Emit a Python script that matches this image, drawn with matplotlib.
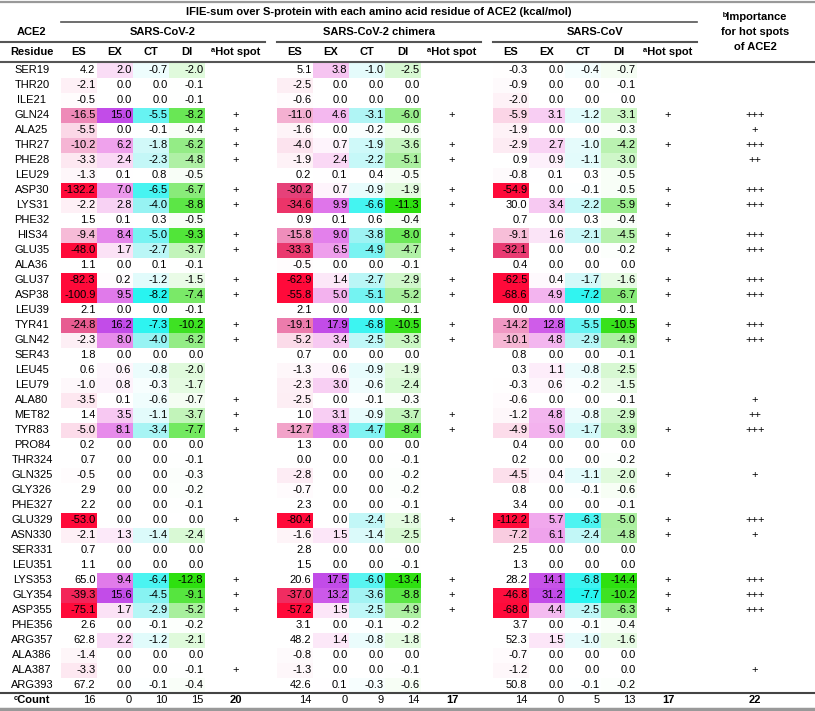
import matplotlib
matplotlib.use("Agg")
import matplotlib.pyplot as plt
from matplotlib.colors import LinearSegmentedColormap
from matplotlib.patches import Rectangle

plt.rcParams['font.family'] = ['Liberation Sans', 'DejaVu Sans']

# ---------------- data ----------------
residues = ['SER19', 'THR20', 'ILE21', 'GLN24', 'ALA25', 'THR27', 'PHE28', 'LEU29', 'ASP30', 'LYS31',
            'PHE32', 'HIS34', 'GLU35', 'ALA36', 'GLU37', 'ASP38', 'LEU39', 'TYR41', 'GLN42', 'SER43',
            'LEU45', 'LEU79', 'ALA80', 'MET82', 'TYR83', 'PRO84', 'THR324', 'GLN325', 'GLY326', 'PHE327',
            'GLU329', 'ASN330', 'SER331', 'LEU351', 'LYS353', 'GLY354', 'ASP355', 'PHE356', 'ARG357',
            'ALA386', 'ALA387', 'ARG393']

# SARS-CoV-2
cov2_es = [4.2, -2.1, -0.5, -16.5, -5.5, -10.2, -3.3, -1.3, -132.2, -2.2, 1.5, -9.4, -48.0, 1.1, -82.3, -100.9,
           2.1, -24.8, -2.3, 1.8, 0.6, -1.0, -3.5, 1.4, -5.0, 0.2, 0.7, -0.5, 2.9, 2.2, -53.0, -2.1, 0.7, 1.1,
           65.0, -39.3, -75.1, 2.6, 62.8, -1.4, -3.3, 67.2]
cov2_ex = [2.0, 0.0, 0.0, 15.0, 0.0, 6.2, 2.4, 0.1, 7.0, 2.8, 0.1, 8.4, 1.7, 0.0, 0.2, 9.5, 0.0, 16.2, 8.0, 0.0,
           0.6, 0.8, 0.1, 3.5, 8.1, 0.0, 0.0, 0.0, 0.0, 0.0, 0.0, 1.3, 0.0, 0.0, 9.4, 15.6, 1.7, 0.0, 2.2,
           0.0, 0.0, 0.0]
cov2_ct = [-0.7, 0.0, 0.0, -5.5, -0.1, -1.8, -2.3, 0.8, -6.5, -4.0, 0.3, -5.0, -2.7, 0.1, -1.2, -8.2, 0.0, -7.3,
           -4.0, 0.0, -0.8, -0.3, -0.6, -1.1, -3.4, 0.0, 0.0, 0.0, 0.0, 0.0, 0.0, -1.4, 0.0, 0.0, -6.4, -4.5,
           -2.9, -0.1, -1.2, 0.0, 0.0, -0.1]
cov2_di = [-2.0, -0.1, -0.1, -8.2, -0.4, -6.2, -4.8, -0.5, -6.7, -8.8, -0.5, -9.3, -3.7, -0.1, -1.5, -7.4, -0.1,
           -10.2, -6.2, 0.0, -2.0, -1.7, -0.7, -3.7, -7.7, 0.0, -0.1, -0.3, -0.2, -0.1, 0.0, -2.4, 0.0, 0.0,
           -12.8, -9.1, -5.2, -0.2, -2.1, 0.0, -0.1, -0.4]
cov2_hot = ['GLN24', 'ALA25', 'THR27', 'PHE28', 'ASP30', 'LYS31', 'HIS34', 'GLU35', 'GLU37', 'ASP38', 'TYR41',
            'GLN42', 'ALA80', 'MET82', 'TYR83', 'GLU329', 'LYS353', 'GLY354', 'ASP355', 'ALA387']

# SARS-CoV-2 chimera
chim_es = [5.1, -2.5, -0.6, -11.0, -1.6, -4.0, -1.9, 0.2, -30.2, -34.6, 0.9, -15.8, -33.3, -0.5, -62.9, -55.8,
           2.1, -19.1, -5.2, 0.7, -1.3, -2.3, -2.5, 1.0, -12.7, 1.3, 0.0, -2.8, -0.7, 2.3, -80.4, -1.6, 2.8,
           1.5, 20.6, -37.0, -57.2, 3.1, 48.2, -0.8, -1.3, 42.6]
chim_ex = [3.8, 0.0, 0.0, 4.6, 0.0, 0.7, 2.4, 0.1, 0.7, 9.9, 0.1, 9.0, 6.5, 0.0, 1.4, 5.0, 0.0, 17.9, 3.4, 0.0,
           0.6, 3.0, 0.0, 3.1, 8.3, 0.0, 0.0, 0.0, 0.0, 0.0, 0.0, 1.5, 0.0, 0.0, 17.5, 13.2, 1.5, 0.0, 1.4,
           0.0, 0.0, 0.1]
chim_ct = [-1.0, 0.0, 0.0, -3.1, -0.2, -1.9, -2.2, 0.4, -0.9, -6.6, 0.6, -3.8, -4.9, 0.0, -2.7, -5.1, 0.0, -6.8,
           -2.5, 0.0, -0.9, -0.6, -0.1, -0.9, -4.7, 0.0, 0.0, 0.0, 0.0, 0.0, -2.4, -1.4, 0.0, 0.0, -6.0, -3.6,
           -2.5, -0.1, -0.8, 0.0, 0.0, -0.3]
chim_di = [-2.5, 0.0, 0.0, -6.0, -0.6, -3.6, -5.1, -0.5, -1.9, -11.3, -0.4, -8.0, -4.7, -0.1, -2.9, -5.2, -0.1,
           -10.5, -3.3, 0.0, -1.9, -2.4, -0.3, -3.7, -8.4, 0.0, -0.1, -0.2, -0.2, -0.1, -1.8, -2.5, 0.0, -0.1,
           -13.4, -8.8, -4.9, -0.2, -1.8, 0.0, -0.1, -0.6]
chim_hot = ['GLN24', 'THR27', 'PHE28', 'ASP30', 'LYS31', 'HIS34', 'GLU35', 'GLU37', 'ASP38', 'TYR41', 'GLN42',
            'MET82', 'TYR83', 'GLU329', 'LYS353', 'GLY354', 'ASP355']

# SARS-CoV
sars_es = [-0.3, -0.9, -2.0, -5.9, -1.9, -2.9, 0.9, -0.8, -54.9, 30.0, 0.7, -9.1, -32.1, 0.4, -62.5, -68.6, 0.0,
           -14.2, -10.1, 0.8, 0.3, -0.3, -0.6, -1.2, -4.9, 0.4, 0.2, -4.5, 0.8, 3.4, -112.2, -7.2, 2.5, 1.3,
           28.2, -46.8, -68.0, 3.7, 52.3, -0.7, -1.2, 50.8]
sars_ex = [0.0, 0.0, 0.0, 3.1, 0.0, 2.7, 0.9, 0.1, 0.0, 3.4, 0.0, 1.6, 0.0, 0.0, 0.4, 4.9, 0.0, 12.8, 4.8, 0.0,
           1.1, 0.6, 0.0, 4.8, 5.0, 0.0, 0.0, 0.4, 0.0, 0.0, 5.7, 6.1, 0.0, 0.0, 14.1, 31.2, 4.4, 0.0, 1.5,
           0.0, 0.0, 0.0]
sars_ct = [-0.4, 0.0, 0.0, -1.2, 0.0, -1.0, -1.1, 0.3, -0.1, -2.2, 0.3, -2.1, 0.0, 0.0, -1.7, -7.2, 0.0, -5.5,
           -2.9, 0.0, -0.8, -0.2, 0.0, -0.8, -1.7, 0.0, 0.0, -1.1, -0.1, 0.0, -6.3, -2.4, 0.0, 0.0, -6.8, -7.7,
           -2.5, -0.1, -1.0, 0.0, 0.0, -0.1]
sars_di = [-0.7, -0.1, 0.0, -3.1, -0.3, -4.2, -3.0, -0.5, -0.5, -5.9, -0.4, -4.5, -0.2, 0.0, -1.6, -6.7, -0.1,
           -10.5, -4.9, -0.1, -2.5, -1.5, -0.1, -2.9, -3.9, 0.0, -0.2, -2.0, -0.6, -0.1, -5.0, -4.8, 0.0, 0.0,
           -14.4, -10.2, -6.3, -0.4, -1.6, 0.0, 0.0, -0.2]
sars_hot = ['GLN24', 'THR27', 'ASP30', 'LYS31', 'HIS34', 'GLU35', 'GLU37', 'ASP38', 'TYR41', 'GLN42', 'TYR83',
            'GLN325', 'GLU329', 'ASN330', 'LYS353', 'GLY354', 'ASP355']

importance = {'GLN24': '+++', 'ALA25': '+', 'THR27': '+++', 'PHE28': '++', 'ASP30': '+++', 'LYS31': '+++',
              'HIS34': '+++', 'GLU35': '+++', 'GLU37': '+++', 'ASP38': '+++', 'TYR41': '+++', 'GLN42': '+++',
              'ALA80': '+', 'MET82': '++', 'TYR83': '+++', 'GLN325': '+', 'GLU329': '+++', 'ASN330': '+',
              'LYS353': '+++', 'GLY354': '+++', 'ASP355': '+++', 'ALA387': '+'}

block_names = ['SARS-CoV-2', 'SARS-CoV-2 chimera', 'SARS-CoV']
counts = [[16, 0, 10, 15, 20], [14, 0, 9, 14, 17], [14, 0, 5, 13, 17]]
importance_count = 22
terms = ['ES', 'EX', 'CT', 'DI']

# ---------------- colour scales (sign, saturation, colours) ----------------
cm_es = LinearSegmentedColormap.from_list('es', [(0, '#ffffff'), (0.12, '#fbd6e6'), (0.3, '#f096c2'),
                                                 (0.6, '#e4467e'), (1, '#ff0a3a')])
cm_ex = LinearSegmentedColormap.from_list('ex', [(0, '#ffffff'), (0.12, '#fbe0f6'), (0.4, '#f0a4ec'),
                                                 (0.7, '#dc6eea'), (1, '#c24ce8')])
cm_ct = LinearSegmentedColormap.from_list('ct', [(0, '#ffffff'), (0.15, '#e2fbfb'), (0.5, '#9ff3f3'),
                                                 (1, '#28f4f0')])
cm_di = LinearSegmentedColormap.from_list('di', [(0, '#ffffff'), (0.15, '#e6fbe3'), (0.5, '#a3ee97'),
                                                 (0.8, '#5ce646'), (1, '#2ee010')])
scales = [(cm_es, -1, 48.0), (cm_ex, 1, 15.0), (cm_ct, -1, 7.5), (cm_di, -1, 11.0)]


def cell_colour(k, v):
    cmap, sign, sat = scales[k]
    t = sign * v / sat
    if t <= 0:
        return '#ffffff'
    return cmap(min(1.0, t))


# ---------------- layout ----------------
W, H = 815, 711
fig = plt.figure(figsize=(W / 100, H / 100), dpi=100)
ax = fig.add_axes([0, 0, 1, 1])
ax.set_xlim(0, W)
ax.set_ylim(H, 0)
ax.axis('off')

fs = 8
res_x = 32
block_x0 = [61, 277, 493]
cw = 36
imp_x = 755
row_y0 = 70
row_h = 15.0
count_y = 700

blocks = [(cov2_es, cov2_ex, cov2_ct, cov2_di, cov2_hot),
          (chim_es, chim_ex, chim_ct, chim_di, chim_hot),
          (sars_es, sars_ex, sars_ct, sars_di, sars_hot)]

# header
ax.text(379, 12, 'IFIE-sum over S-protein with each amino acid residue of ACE2 (kcal/mol)',
        ha='center', va='center', fontsize=fs, fontweight='bold')
ax.text(res_x, 32, 'ACE2', ha='center', va='center', fontsize=fs, fontweight='bold')
ax.text(res_x, 52, 'Residue', ha='center', va='center', fontsize=fs, fontweight='bold')
for j, line in enumerate(['ᵇImportance', 'for hot spots', 'of ACE2']):
    ax.text(imp_x, 17 + 15 * j, line, ha='center', va='center', fontsize=fs, fontweight='bold')

lc = '#555555'
ax.plot([0, W], [2, 2], color='#999999', lw=1.6)
ax.plot([61, 697], [22, 22], color=lc, lw=1.2)
ax.plot([0, W], [62, 62], color=lc, lw=1.5)
ax.plot([0, W], [693, 693], color='#444444', lw=1.5)
ax.plot([0, W], [709, 709], color='#999999', lw=2.5)

for b, (name, x0) in enumerate(zip(block_names, block_x0)):
    x_end = x0 + 204 if b else 265
    ax.plot([0 if b == 0 else x0, x_end], [42, 42], color=lc, lw=1.5)
    ax.text((x0 + x0 + 204) / 2, 32, name, ha='center', va='center', fontsize=fs, fontweight='bold')
    for k, term in enumerate(terms):
        ax.text(x0 + cw * k + cw / 2, 52, term, ha='center', va='center', fontsize=fs, fontweight='bold')
    ax.text(x0 + 175, 52, 'ᵃHot spot', ha='center', va='center', fontsize=fs, fontweight='bold')

# body
for i, res in enumerate(residues):
    y = row_y0 + i * row_h
    ax.text(res_x, y, res, ha='center', va='center', fontsize=fs)
    for b, x0 in enumerate(block_x0):
        data = blocks[b]
        for k in range(4):
            v = data[k][i]
            xl = x0 + cw * k
            ax.add_patch(Rectangle((xl, y - row_h / 2), cw, row_h, facecolor=cell_colour(k, v),
                                   edgecolor='none', zorder=0))
            ax.text(xl + cw - 1.5, y, f'{v:.1f}', ha='right', va='center', fontsize=fs)
        if res in data[4]:
            ax.text(x0 + 175, y, '+', ha='center', va='center', fontsize=fs)
    if res in importance:
        ax.text(imp_x, y, importance[res], ha='center', va='center', fontsize=fs)

# count row
ax.text(res_x, count_y, 'ᶜCount', ha='center', va='center', fontsize=fs, fontweight='bold')
for b, x0 in enumerate(block_x0):
    for k in range(4):
        ax.text(x0 + cw * k + cw - 1.5, count_y, str(counts[b][k]), ha='right', va='center', fontsize=fs)
    ax.text(x0 + 175, count_y, str(counts[b][4]), ha='center', va='center', fontsize=fs, fontweight='bold')
ax.text(imp_x, count_y, str(importance_count), ha='center', va='center', fontsize=fs, fontweight='bold')

fig.savefig('out.png', dpi=100)
